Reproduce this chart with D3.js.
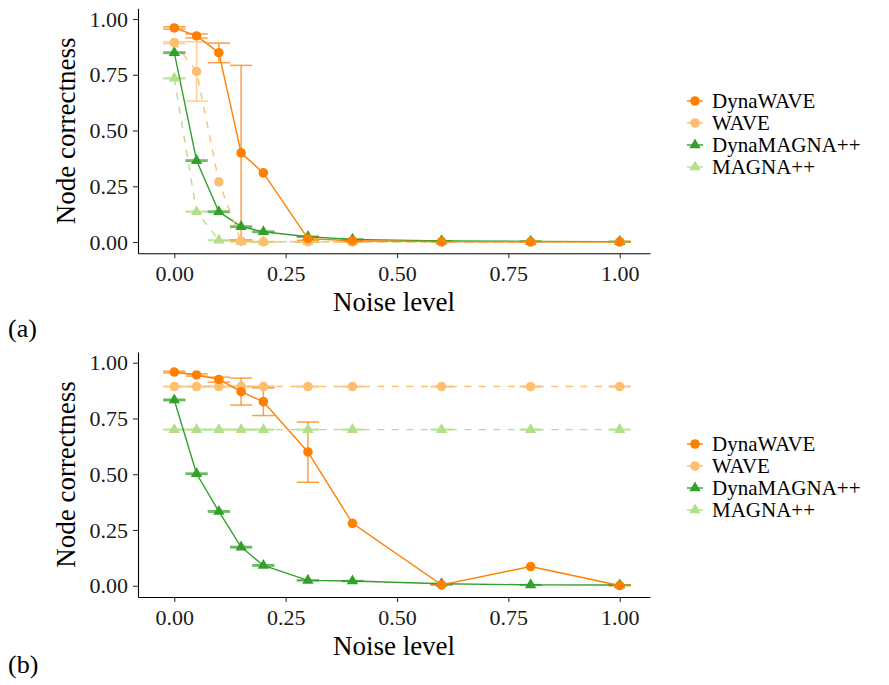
<!DOCTYPE html>
<html><head><meta charset="utf-8">
<script src="https://cdn.jsdelivr.net/npm/d3@7"></script>
<style>
body{margin:0;background:#fff}
svg text{font-family:"Liberation Serif","DejaVu Serif",serif !important}
</style>
</head><body>
<svg id="chart" width="889" height="685" font-family="Liberation Serif, DejaVu Serif, serif"></svg>
<script>
// ---------- data ----------
const noiseLevels = [0, 0.05, 0.1, 0.15, 0.2, 0.3, 0.4, 0.6, 0.8, 1.0];
const seriesNames = ["DynaWAVE", "WAVE", "DynaMAGNA++", "MAGNA++"];
const seriesColors = ["#FF7F00", "#FDBF6F", "#33A02C", "#B2DF8A"];
const seriesDashed = [false, true, false, true];
const seriesShapes = ["circle", "circle", "triangle", "triangle"];
const xTicks = [0, 0.25, 0.5, 0.75, 1.0];
const yTicks = [0, 0.25, 0.5, 0.75, 1.0];
const panelLabels = ["(a)", "(b)"];

// panel (a)  (null = no error bar)
const dynaWaveA    = [0.960, 0.924, 0.849, 0.400, 0.310, 0.015, 0.006, 0.002, 0.001, 0.001];
const dynaWaveA_lo = [0.955, 0.915, 0.804, 0.010, null, 0.008, 0.003, 0.001, 0.000, 0.000];
const dynaWaveA_hi = [0.965, 0.933, 0.892, 0.792, null, 0.022, 0.009, 0.003, 0.002, 0.002];
const waveA        = [0.894, 0.765, 0.270, 0.004, 0.001, 0.001, 0.000, 0.000, 0.000, 0.000];
const waveA_lo     = [0.890, 0.632, null, 0.002, 0.000, 0.000, 0.000, 0.000, 0.000, 0.000];
const waveA_hi     = [0.898, 0.898, null, 0.006, 0.002, 0.002, 0.000, 0.000, 0.000, 0.000];
const dynaMagnaA    = [0.849, 0.365, 0.136, 0.069, 0.046, 0.024, 0.012, 0.005, 0.003, 0.002];
const dynaMagnaA_lo = [0.846, 0.362, 0.133, 0.066, 0.043, 0.022, 0.010, 0.004, 0.002, 0.001];
const dynaMagnaA_hi = [0.852, 0.368, 0.139, 0.072, 0.049, 0.026, 0.014, 0.006, 0.004, 0.003];
const magnaA    = [0.734, 0.136, 0.008, 0.002, 0.001, 0.001, 0.001, 0.001, 0.001, 0.001];
const magnaA_lo = [0.732, 0.134, 0.006, 0.001, 0.000, 0.000, 0.000, 0.000, 0.000, 0.000];
const magnaA_hi = [0.736, 0.138, 0.010, 0.003, 0.002, 0.002, 0.002, 0.002, 0.002, 0.002];

// panel (b)
const dynaWaveB    = [0.958, 0.945, 0.925, 0.870, 0.825, 0.600, 0.280, 0.004, 0.086, 0.001];
const dynaWaveB_lo = [0.954, 0.940, 0.913, 0.810, 0.763, 0.464, null, 0.003, null, 0.000];
const dynaWaveB_hi = [0.962, 0.950, 0.935, 0.931, 0.887, 0.734, null, 0.005, null, 0.002];
const waveB    = [0.893, 0.893, 0.893, 0.893, 0.893, 0.893, 0.893, 0.893, 0.893, 0.893];
const waveB_lo = [0.891, 0.891, 0.891, 0.891, 0.891, 0.891, 0.891, 0.891, 0.891, 0.891];
const waveB_hi = [0.895, 0.895, 0.895, 0.895, 0.895, 0.895, 0.895, 0.895, 0.895, 0.895];
const dynaMagnaB    = [0.833, 0.502, 0.333, 0.173, 0.091, 0.024, 0.021, 0.009, 0.004, 0.003];
const dynaMagnaB_lo = [0.830, 0.499, 0.330, 0.170, 0.088, 0.022, 0.019, 0.008, 0.003, 0.002];
const dynaMagnaB_hi = [0.836, 0.505, 0.336, 0.176, 0.094, 0.026, 0.023, 0.010, 0.005, 0.004];
const magnaB    = [0.700, 0.700, 0.700, 0.700, 0.700, 0.700, 0.700, 0.700, 0.700, 0.700];
const magnaB_lo = [0.698, 0.698, 0.698, 0.698, 0.698, 0.698, 0.698, 0.698, 0.698, 0.698];
const magnaB_hi = [0.702, 0.702, 0.702, 0.702, 0.702, 0.702, 0.702, 0.702, 0.702, 0.702];

const panels = [
  {values: [dynaWaveA, waveA, dynaMagnaA, magnaA],
   lo: [dynaWaveA_lo, waveA_lo, dynaMagnaA_lo, magnaA_lo],
   hi: [dynaWaveA_hi, waveA_hi, dynaMagnaA_hi, magnaA_hi]},
  {values: [dynaWaveB, waveB, dynaMagnaB, magnaB],
   lo: [dynaWaveB_lo, waveB_lo, dynaMagnaB_lo, magnaB_lo],
   hi: [dynaWaveB_hi, waveB_hi, dynaMagnaB_hi, magnaB_hi]}
];

// ---------- layout ----------
const FONT = '"Liberation Serif", "DejaVu Serif", serif';
const svg = d3.select("#chart");
const plotLeft = 138, plotRight = 650, plotH = 245;
const panelTops = [8.3, 352];
const legendTops = [101, 444];
const labelBaselines = [337, 673];
const x = d3.scaleLinear().domain([-0.0815, 1.068]).range([plotLeft, plotRight]);
const capHalf = 0.025;
const drawOrder = [3, 2, 1, 0];

function symbolPath(shape) {
  return shape === "circle"
    ? d3.symbol().type(d3.symbolCircle).size(72)()
    : d3.symbol().type(d3.symbolTriangle).size(56)();
}

panels.forEach((p, pi) => {
  const top = panelTops[pi];
  const y = d3.scaleLinear().domain([-0.0505, 1.048]).range([top + plotH, top]);
  const g = svg.append("g");

  // axes
  const ya = g.append("g").attr("transform", `translate(${plotLeft},0)`)
    .call(d3.axisLeft(y).tickValues(yTicks).tickFormat(d3.format(".2f")).tickSize(5).tickPadding(5).tickSizeOuter(0));
  const xa = g.append("g").attr("transform", `translate(0,${top + plotH})`)
    .call(d3.axisBottom(x).tickValues(xTicks).tickFormat(d3.format(".2f")).tickSize(5).tickPadding(7.5).tickSizeOuter(0));
  [ya, xa].forEach(a => {
    a.attr("font-family", FONT).attr("font-size", 22);
    a.select(".domain").attr("stroke", "#000").attr("stroke-width", 1.1);
    a.selectAll(".tick line").attr("stroke", "#333").attr("stroke-width", 1.1);
    a.selectAll(".tick text").attr("font-size", 22).attr("fill", "#1a1a1a")
      .style("font-family", FONT);
  });

  // axis titles
  g.append("text").attr("x", (plotLeft + plotRight) / 2).attr("y", top + plotH + 58)
    .attr("text-anchor", "middle").attr("font-size", 27).attr("fill", "#000")
    .style("font-family", FONT).text("Noise level");
  g.append("text").attr("transform", `translate(75,${top + plotH / 2}) rotate(-90)`)
    .attr("text-anchor", "middle").attr("font-size", 27).attr("fill", "#000")
    .style("font-family", FONT).text("Node correctness");

  // error bars
  drawOrder.forEach(si => {
    const eg = g.append("g").attr("stroke", seriesColors[si]).attr("stroke-opacity", 0.75)
      .attr("stroke-width", 1.5).attr("fill", "none");
    noiseLevels.forEach((nx, i) => {
      const lo = p.lo[si][i], hi = p.hi[si][i];
      if (lo === null || hi === null) return;
      eg.append("line").attr("x1", x(nx)).attr("x2", x(nx)).attr("y1", y(lo)).attr("y2", y(hi));
      eg.append("line").attr("x1", x(nx - capHalf)).attr("x2", x(nx + capHalf)).attr("y1", y(lo)).attr("y2", y(lo));
      eg.append("line").attr("x1", x(nx - capHalf)).attr("x2", x(nx + capHalf)).attr("y1", y(hi)).attr("y2", y(hi));
    });
  });

  // lines
  drawOrder.forEach(si => {
    const line = d3.line().x((d, i) => x(noiseLevels[i])).y(d => y(d));
    g.append("path").datum(p.values[si]).attr("d", line).attr("fill", "none")
      .attr("stroke", seriesColors[si]).attr("stroke-width", 1.4)
      .attr("stroke-dasharray", seriesDashed[si] ? "7,7.5" : null);
  });

  // points
  drawOrder.forEach(si => {
    g.append("g").selectAll("path").data(p.values[si]).join("path")
      .attr("d", symbolPath(seriesShapes[si]))
      .attr("transform", (d, i) => `translate(${x(noiseLevels[i])},${y(d)})`)
      .attr("fill", seriesColors[si]);
  });

  // legend
  const lg = g.append("g");
  seriesNames.forEach((name, si) => {
    const ry = legendTops[pi] + si * 22;
    lg.append("line").attr("x1", 687).attr("x2", 703).attr("y1", ry).attr("y2", ry)
      .attr("stroke", seriesColors[si]).attr("stroke-width", 1.4);
    lg.append("path").attr("d", symbolPath(seriesShapes[si])).attr("transform", `translate(695,${ry})`)
      .attr("fill", seriesColors[si]);
    lg.append("text").attr("x", 712).attr("y", ry).attr("dy", "0.35em").attr("font-size", 21)
      .attr("fill", "#000").style("font-family", FONT).text(name);
  });

  // panel label
  svg.append("text").attr("x", 8).attr("y", labelBaselines[pi]).attr("font-size", 26)
    .attr("fill", "#000").style("font-family", FONT).text(panelLabels[pi]);
});
</script>
</body></html>
